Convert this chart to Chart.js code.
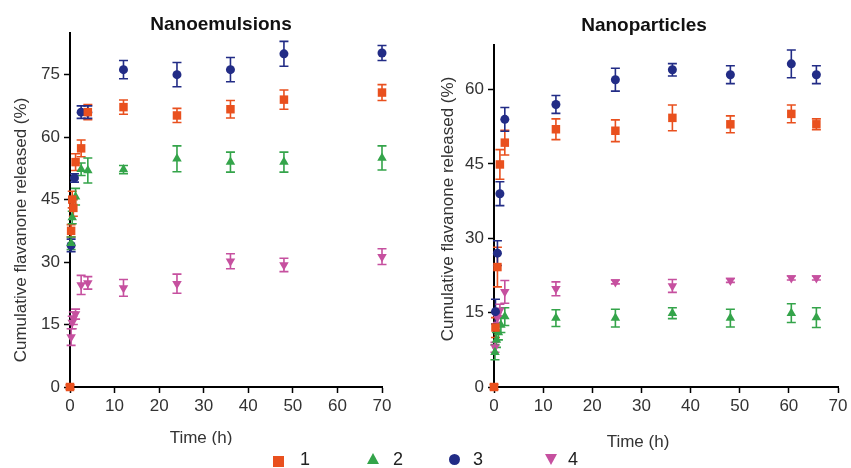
<!DOCTYPE html>
<html><head><meta charset="utf-8">
<script src="https://cdn.jsdelivr.net/npm/chart.js@4.4.1/dist/chart.umd.min.js"></script>
<style>
html,body{margin:0;padding:0;background:#fff;}
#wrap{position:relative;width:851px;height:468px;overflow:hidden;font-family:"Liberation Sans",Arial,sans-serif;}
canvas{position:absolute;top:0;}
#cL{left:0;}
#cR{left:425px;}
.lgm,.lgt{position:absolute;}
.lgt{font-size:18px;line-height:18px;color:#222;}
</style></head><body>
<div id="wrap">
<canvas id="cL" width="425" height="445"></canvas>
<canvas id="cR" width="426" height="452"></canvas>
<div id="legend"></div>
</div>
<script>
// ---- series meta ----
const seriesNames = ['1', '2', '3', '4'];
const seriesColors = ['#E9501E', '#34A44A', '#222C86', '#C6509F'];
const seriesStyles = ['rect', 'triangle', 'circle', 'triangle'];
const seriesRotation = [0, 0, 0, 180];

// ---- axis ticks ----
const xTicksStep = 10;
const xMax = 70;
const yStepLeft = 15, yMaxLeft = 85;
const yStepRight = 15, yMaxRight = 69;

// ---- Nanoemulsions (left) ----
const ne1Time = [0, 0.25, 0.5, 0.75, 1.25, 2.5, 4, 12, 24, 36, 48, 70];
const ne1Val  = [0, 37.5, 45, 43, 54, 57.3, 66, 67.2, 65.2, 66.7, 69, 70.7];
const ne1Err  = [0.5, 1.5, 2, 2, 2, 2, 1.8, 1.7, 1.7, 2.1, 2.3, 1.9];
const ne2Time = [0.25, 0.5, 1.25, 2.5, 4, 12, 24, 36, 48, 70];
const ne2Val  = [34.5, 40.7, 45.7, 52.3, 52, 52.2, 54.8, 54, 54, 55];
const ne2Err  = [1.5, 1.5, 2, 1.5, 3, 1, 3.1, 2.4, 2.4, 2.9];
const ne3Time = [0.25, 1, 2.5, 4, 12, 24, 36, 48, 70];
const ne3Val  = [34, 50.2, 66, 66, 76.2, 75, 76.2, 80, 80.2];
const ne3Err  = [1.5, 1, 1.5, 1.5, 2.2, 2.9, 2.9, 3, 1.8];
const ne4Time = [0.25, 0.5, 0.75, 1.25, 2.5, 4, 12, 24, 36, 48, 70];
const ne4Val  = [12, 15.5, 16.5, 17.5, 24.5, 25, 23.8, 24.8, 30.2, 29.3, 31.3];
const ne4Err  = [2, 1.5, 1.5, 1.2, 2.3, 1.5, 2, 2.3, 1.8, 1.6, 1.9];

// ---- Nanoparticles (right) ----
const np1Time = [0, 0.3, 0.7, 1.2, 2.2, 12.6, 24.7, 36.3, 48.1, 60.5, 65.6];
const np1Val  = [0, 12, 24.2, 44.9, 49.3, 52, 51.7, 54.3, 53, 55.1, 53];
const np1Err  = [0.5, 2, 4, 3, 2.5, 2.1, 2.2, 2.6, 1.7, 1.8, 1.1];
const np2Time = [0.2, 0.5, 0.9, 1.4, 2.2, 12.6, 24.7, 36.3, 48.1, 60.5, 65.6];
const np2Val  = [7, 9.5, 11, 12.5, 14.2, 13.9, 13.9, 14.9, 13.9, 14.9, 14];
const np2Err  = [1.5, 1.5, 1.5, 1.5, 1.8, 1.7, 1.8, 1.1, 1.8, 1.9, 2];
const np3Time = [0.3, 0.7, 1.2, 2.2, 12.6, 24.7, 36.3, 48.1, 60.5, 65.6];
const np3Val  = [15.2, 27, 39, 54, 57, 62, 64, 63, 65.2, 63];
const np3Err  = [2.5, 2.5, 2.4, 2.4, 1.8, 2.3, 1.25, 1.8, 2.8, 1.8];
const np4Time = [0.2, 0.7, 1.2, 2.2, 12.6, 24.7, 36.3, 48.1, 60.5, 65.6];
const np4Val  = [8, 14, 15.5, 19.2, 19.8, 21.2, 20.4, 21.5, 22, 22];
const np4Err  = [1, 1, 1.2, 2.3, 1.4, 0.4, 1.3, 0.4, 0.4, 0.4];

// ---- texts ----
const titleLeft = 'Nanoemulsions';
const titleRight = 'Nanoparticles';
const xTitle = 'Time (h)';
const yTitle = 'Cumulative flavanone released (%)';

const FONT = '"Liberation Sans", Arial, Helvetica, sans-serif';

const errorBars = {
  id: 'errorBars',
  beforeDatasetsDraw(chart) {
    const ctx = chart.ctx, ys = chart.scales.y;
    chart.data.datasets.forEach((ds, i) => {
      const meta = chart.getDatasetMeta(i);
      if (!ds.errors) return;
      ctx.save();
      ctx.strokeStyle = ds.borderColor;
      ctx.lineWidth = 1.6;
      meta.data.forEach((pt, j) => {
        const e = ds.errors[j];
        if (!e) return;
        const v = ds.data[j].y;
        const yT = ys.getPixelForValue(v + e), yB = ys.getPixelForValue(v - e);
        const x = pt.x, cap = 4.5;
        ctx.beginPath();
        ctx.moveTo(x, yT); ctx.lineTo(x, yB);
        ctx.moveTo(x - cap, yT); ctx.lineTo(x + cap, yT);
        ctx.moveTo(x - cap, yB); ctx.lineTo(x + cap, yB);
        ctx.stroke();
      });
      ctx.restore();
    });
  }
};

const panelText = {
  id: 'panelText',
  afterDraw(chart, args, o) {
    const ctx = chart.ctx;
    ctx.save();
    ctx.textAlign = 'center';
    ctx.textBaseline = 'middle';
    ctx.fillStyle = '#111';
    ctx.font = 'bold 19px ' + FONT;
    ctx.fillText(o.title, o.tx, o.ty);
    ctx.fillStyle = '#333';
    ctx.font = '17px ' + FONT;
    ctx.fillText(o.xTitle, o.xx, o.xy);
    ctx.translate(o.yx, o.yy);
    ctx.rotate(-Math.PI / 2);
    ctx.fillText(o.yTitle, 0, 0);
    ctx.restore();
  }
};

function makeDatasets(times, vals, errs) {
  return seriesNames.map((name, i) => ({
    label: name,
    data: times[i].map((t, j) => ({ x: t, y: vals[i][j] })),
    errors: errs[i],
    backgroundColor: seriesColors[i],
    borderColor: seriesColors[i],
    pointStyle: seriesStyles[i],
    rotation: seriesRotation[i],
    pointRadius: seriesStyles[i] === 'circle' ? 4.5 : (seriesStyles[i] === 'rect' ? 6 : 5.5),
    pointBorderWidth: 0,
    showLine: false,
    clip: false
  }));
}

function axis(opts) {
  return {
    type: 'linear', min: 0, max: opts.max,
    ticks: { stepSize: opts.step, includeBounds: false, color: '#333', padding: opts.pad,
             font: { family: FONT, size: 17 } },
    grid: { display: true, drawOnChartArea: false, drawTicks: true, tickLength: 6,
            tickColor: '#000', tickWidth: 1.5, color: '#000' },
    border: { display: true, color: '#000', width: 2 },
    afterFit: opts.fit
  };
}

function makePanel(id, datasets, L) {
  new Chart(document.getElementById(id), {
    type: 'scatter',
    data: { datasets },
    options: {
      responsive: false, animation: false, devicePixelRatio: 1,
      layout: { padding: { left: 0, right: L.padR, top: L.top, bottom: 0 } },
      plugins: {
        legend: { display: false }, tooltip: { enabled: false }, title: { display: false },
        panelText: L.text
      },
      scales: {
        x: axis({ max: xMax, step: xTicksStep, pad: 3, fit: s => { s.height = L.xH; } }),
        y: axis({ max: L.yMax, step: L.yStep, pad: 4, fit: s => { s.width = L.yW; } })
      }
    },
    plugins: [errorBars, panelText]
  });
}

makePanel('cL',
  makeDatasets([ne1Time, ne2Time, ne3Time, ne4Time], [ne1Val, ne2Val, ne3Val, ne4Val], [ne1Err, ne2Err, ne3Err, ne4Err]),
  { padR: 43, top: 33, xH: 58, yW: 70, yMax: yMaxLeft, yStep: yStepLeft,
    text: { title: titleLeft, tx: 221, ty: 25, xTitle: xTitle, xx: 201, xy: 438, yTitle: yTitle, yx: 21, yy: 230 } });

makePanel('cR',
  makeDatasets([np1Time, np2Time, np3Time, np4Time], [np1Val, np2Val, np3Val, np4Val], [np1Err, np2Err, np3Err, np4Err]),
  { padR: 13, top: 45, xH: 65, yW: 69, yMax: yMaxRight, yStep: yStepRight,
    text: { title: titleRight, tx: 219, ty: 26, xTitle: xTitle, xx: 213, xy: 442, yTitle: yTitle, yx: 23, yy: 209 } });

// ---- legend (HTML) ----
const legendMarkerLeft = [273, 367, 449, 545];
const legendTextLeft = [300, 393, 473, 568];
const lg = document.getElementById('legend');
seriesNames.forEach((name, i) => {
  const m = document.createElement('div');
  m.className = 'lgm';
  const c = seriesColors[i];
  if (seriesStyles[i] === 'rect') {
    Object.assign(m.style, { left: legendMarkerLeft[i] + 'px', top: '456px', width: '11px', height: '11px', background: c });
  } else if (seriesStyles[i] === 'circle') {
    Object.assign(m.style, { left: legendMarkerLeft[i] + 'px', top: '454px', width: '11px', height: '11px', background: c, borderRadius: '50%' });
  } else if (seriesRotation[i] === 0) {
    Object.assign(m.style, { left: legendMarkerLeft[i] + 'px', top: '453px', width: 0, height: 0,
      borderLeft: '6px solid transparent', borderRight: '6px solid transparent', borderBottom: '11px solid ' + c });
  } else {
    Object.assign(m.style, { left: legendMarkerLeft[i] + 'px', top: '454px', width: 0, height: 0,
      borderLeft: '6px solid transparent', borderRight: '6px solid transparent', borderTop: '11px solid ' + c });
  }
  lg.appendChild(m);
  const t = document.createElement('div');
  t.className = 'lgt';
  t.style.left = legendTextLeft[i] + 'px';
  t.style.top = '450px';
  t.textContent = name;
  lg.appendChild(t);
});
</script>
</body></html>
